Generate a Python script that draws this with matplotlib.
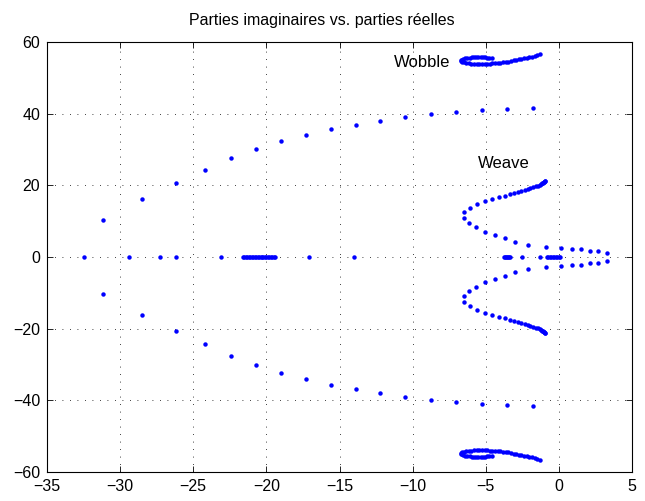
import numpy as np
import matplotlib
matplotlib.use('Agg')
import matplotlib.pyplot as plt

plt.rcParams['font.family'] = ['Liberation Sans', 'DejaVu Sans']

# Outer arc (upper half, conjugate pairs drawn with -imag)
arc_re = [-1.80, -3.53, -5.28, -7.02, -8.77, -10.5, -12.2, -13.9, -15.6,
          -17.3, -19.0, -20.7, -22.4, -24.2, -26.2, -28.5, -31.2]
arc_im = [41.5, 41.2, 40.9, 40.4, 39.8, 39.0, 38.0, 36.9, 35.6,
          34.1, 32.3, 30.1, 27.6, 24.4, 20.7, 16.2, 10.2]

# Wobble mode (upper half)
wob_re = [-4.60, -4.75, -4.90, -5.05, -5.20, -5.35, -5.50, -5.65, -5.80, -5.95,
          -6.10, -6.25, -6.40, -6.55, -6.65, -6.72, -6.72, -6.62, -6.48, -6.32,
          -6.15, -5.98, -5.80, -5.62, -5.44, -5.26, -5.08, -4.90, -4.72, -4.54,
          -4.36, -4.18, -4.00, -3.82, -3.64, -3.46, -3.28, -3.10, -2.92, -2.74,
          -2.56, -2.38, -2.20, -2.02, -1.84, -1.66, -1.48, -1.30]
wob_im = [55.5, 55.6, 55.65, 55.7, 55.75, 55.8, 55.8, 55.8, 55.75, 55.7,
          55.65, 55.55, 55.4, 55.25, 55.05, 54.85, 54.65, 54.45, 54.3, 54.2,
          54.1, 54.0, 53.95, 53.9, 53.9, 53.9, 53.9, 53.95, 54.0, 54.05,
          54.1, 54.15, 54.25, 54.35, 54.45, 54.55, 54.7, 54.85, 55.0, 55.15,
          55.3, 55.45, 55.6, 55.8, 55.95, 56.15, 56.35, 56.6]

# Weave mode (upper half)
wea_re = [3.26, 2.67, 2.10, 1.53, 0.89, 0.16, -0.87, -2.12, -2.99, -3.71,
          -4.40, -5.04, -5.67, -6.17, -6.49, -6.47, -6.08, -5.58, -5.04, -4.58,
          -4.08, -3.71, -3.37, -3.10, -2.82, -2.58, -2.35, -2.14, -1.96, -1.78,
          -1.59, -1.46, -1.32, -1.21, -1.14, -1.09, -1.04, -1.00, -0.97, -0.95]
wea_im = [1.0, 1.6, 1.8, 2.1, 2.3, 2.5, 2.7, 3.4, 4.3, 5.3,
          6.2, 7.1, 8.3, 9.5, 10.9, 12.5, 13.7, 14.8, 15.5, 16.2,
          16.75, 17.1, 17.6, 17.95, 18.2, 18.5, 18.8, 19.0, 19.2, 19.4,
          19.7, 19.9, 20.2, 20.4, 20.55, 20.7, 20.85, 21.0, 21.1, 21.2]

# Real eigenvalues
real_re = [-32.5, -29.4, -27.3, -26.2, -23.1,
           -21.6, -21.5, -21.4, -21.3, -21.2, -21.1, -21.0, -20.9, -20.8, -20.7,
           -20.6, -20.5, -20.4, -20.3, -20.2, -20.1, -20.0, -19.9, -19.8, -19.7,
           -19.6, -19.5, -19.4,
           -17.1, -14.0,
           -3.78, -3.70, -3.62, -3.54, -3.46, -3.40, -3.33,
           -2.53, -1.28,
           -0.82, -0.72, -0.62, -0.52, -0.42, -0.32, -0.22, -0.12, -0.02, 0.09]

fig = plt.figure(figsize=(6.45, 5.01), dpi=100)
ax = fig.add_axes([47/645, 29/501, 585/645, 430/501])

mk = dict(linestyle='none', marker='o', markersize=3.2, markeredgewidth=0,
          color=(0, 0, 1))
for re_, im_ in [(arc_re, arc_im), (wob_re, wob_im), (wea_re, wea_im)]:
    ax.plot(re_, im_, **mk)
    ax.plot(re_, -np.array(im_), **mk)
ax.plot(real_re, np.zeros(len(real_re)), **mk)

ax.set_xlim(-35, 5)
ax.set_ylim(-60, 60)
ax.set_xticks(np.arange(-35, 6, 5))
ax.set_yticks(np.arange(-60, 61, 20))
ax.tick_params(direction='in', length=4, width=0.6, top=True, right=True,
               labelsize=11.5, pad=5)
ax.grid(True, color='black', linestyle=(0, (1, 8)), linewidth=0.6)
for s in ax.spines.values():
    s.set_linewidth(0.8)

ax.text(-11.25, 54.3, 'Wobble', fontsize=12, va='center', ha='left')
ax.text(-5.55, 26.0, 'Weave', fontsize=12, va='center', ha='left')
ax.set_title('Parties imaginaires vs. parties réelles', fontsize=11.5,
             x=0.47, pad=12)

fig.savefig('out.png', dpi=100)
